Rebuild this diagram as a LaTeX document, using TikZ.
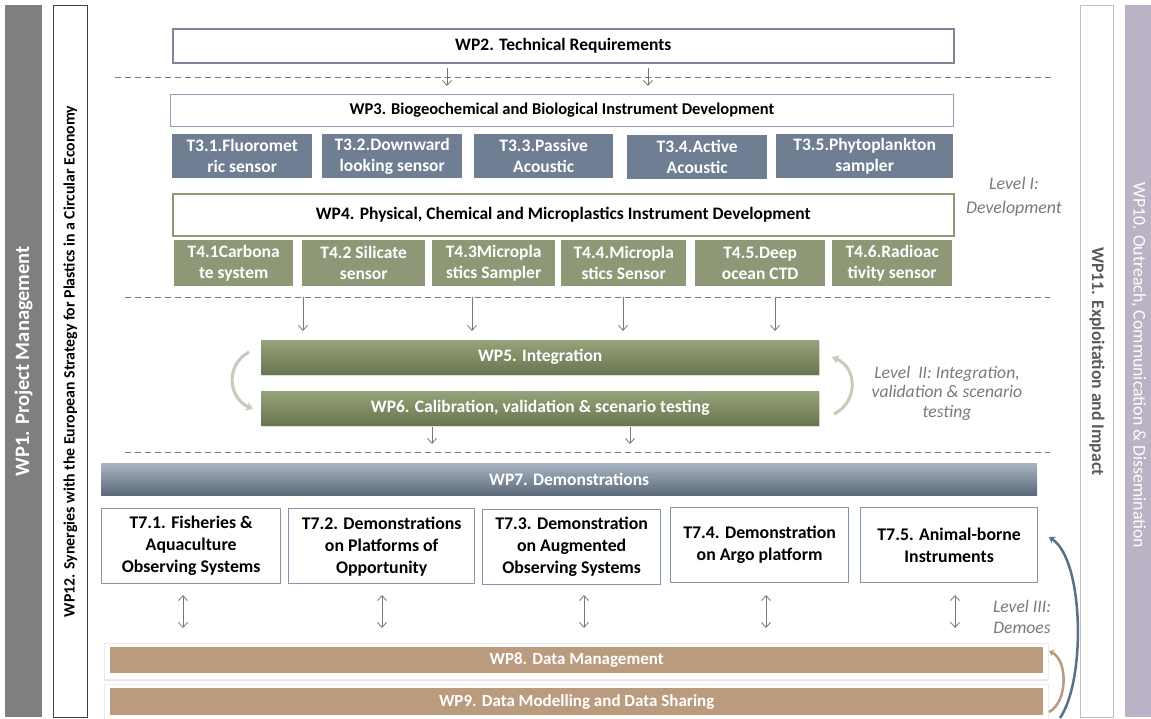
\documentclass[tikz,border=0pt]{standalone}
\usepackage{fontspec}
\setmainfont{Carlito}
\usetikzlibrary{arrows.meta,shadows}
\definecolor{wpgray}{HTML}{7F7F7F}
\definecolor{wpten}{HTML}{BBB3C5}
\definecolor{wptwoline}{HTML}{8B7F98}
\definecolor{wpthreeline}{HTML}{8DA0B8}
\definecolor{tthree}{HTML}{6F7E92}
\definecolor{wpfourline}{HTML}{8C9A76}
\definecolor{tfour}{HTML}{8E9877}
\definecolor{olivetop}{HTML}{96A279}
\definecolor{olivebot}{HTML}{687650}
\definecolor{slatetop}{HTML}{AAB5C3}
\definecolor{slatebot}{HTML}{5A6878}
\definecolor{tsevenline}{HTML}{8494AB}
\definecolor{tan}{HTML}{BB9B7E}
\definecolor{lvl}{HTML}{7A7A7A}
\definecolor{arr}{HTML}{777777}
\definecolor{cyc}{HTML}{C5CCBA}
\definecolor{bluearc}{HTML}{5A7087}
\newcommand\fsz[2]{\fontsize{#1}{#2}\selectfont}
\tikzset{
  base/.style={anchor=north west, inner sep=0pt, align=center, font=\bfseries\fsz{17.5}{21}},
  wpbox/.style={base, draw, fill=white, line width=1.6pt},
  tthreebox/.style={base, fill=tthree, text=white},
  tfourbox/.style={base, fill=tfour, text=white},
  olivebar/.style={base, top color=olivetop, bottom color=olivebot, text=white, drop shadow={opacity=0.25, shadow xshift=1pt, shadow yshift=-2pt}},
  slatebar/.style={base, top color=slatetop, bottom color=slatebot, text=white},
  tsevenbox/.style={base, draw=tsevenline, line width=1.3pt, fill=white, font=\bfseries\fsz{17.8}{22}},
  tanbar/.style={base, fill=tan, text=white, font=\bfseries\fsz{17}{19}},
  tanframe/.style={anchor=north west, inner sep=0pt, fill=white, draw=black!8, drop shadow={opacity=0.2, shadow xshift=0pt, shadow yshift=-2pt}},
  level/.style={align=center, text=lvl, font=\itshape\fsz{17.8}{24}},
  dline/.style={draw=arr, dash pattern=on 6pt off 4pt, line width=0.8pt},
  darrow/.style={draw=arr, line width=0.8pt, -{Straight Barb[length=5pt,width=9pt]}},
  ddarrow/.style={draw=arr, line width=0.8pt, {Straight Barb[length=5pt,width=9pt]}-{Straight Barb[length=5pt,width=9pt]}},
  cycarrow/.style={draw=cyc, line width=3pt, -{Stealth[length=7pt,width=9pt]}},
}
\begin{document}
\begin{tikzpicture}[x=1pt,y=-1pt]
\useasboundingbox[fill=white] (0,0) rectangle (1151,718);

% side bars
\node[anchor=north west, inner sep=0pt, fill=wpgray, minimum width=37pt, minimum height=712pt] (wp1) at (5,5) {};
\node[rotate=90, text=white, font=\bfseries\fsz{20.5}{22}] (wp1t) at (wp1.center) {WP1. Project Management};
\node[anchor=north west, inner sep=0pt, draw=black!75, line width=1pt, fill=white, minimum width=34pt, minimum height=712pt] (wp12) at (53,5) {};
\node[rotate=90, font=\bfseries\fsz{15.8}{18}] (wp12t) at (wp12.center) {WP12. Synergies with the European Strategy for Plastics in a Circular Economy};
\node[anchor=north west, inner sep=0pt, draw=black!25, line width=0.8pt, fill=white, minimum width=33pt, minimum height=712pt] (wp11) at (1080,5) {};
\node[rotate=-90, text=black!65, font=\bfseries\fsz{17.7}{20}] (wp11t) at (wp11.center) {WP11. Exploitation and Impact};
\node[anchor=north west, inner sep=0pt, fill=wpten, minimum width=27pt, minimum height=712pt] (wp10) at (1125,5) {};
\node[rotate=-90, text=white, font=\fsz{17.8}{20}] (wp10t) at ([yshift=-4pt]wp10.center) {WP10. Outreach, Communication \& Dissemination};

% Level I
\node[wpbox, draw=wptwoline, minimum width=781pt, minimum height=34pt] (wp2) at (172,28) {WP2. Technical Requirements};
\coordinate (d1l) at (115,77); \coordinate (d1r) at (1055,77);
\draw[dline] (d1l) -- (d1r);
\coordinate (a1s) at (447,68); \coordinate (a1e) at (447,86);
\coordinate (a2s) at (648,68); \coordinate (a2e) at (648,86);
\draw[darrow] (a1s) -- (a1e);
\draw[darrow] (a2s) -- (a2e);
\node[wpbox, draw=wpthreeline, line width=1pt, minimum width=783pt, minimum height=32pt, font=\bfseries\fsz{16.5}{20}] (wp3) at (170,94) {WP3. Biogeochemical and Biological Instrument Development};
\node[tthreebox, minimum width=140pt, minimum height=44pt] (t31) at (172,134) {T3.1.Fluoromet\\ric sensor};
\node[tthreebox, minimum width=140pt, minimum height=44pt] (t32) at (322,134) {T3.2.Downward\\looking sensor};
\node[tthreebox, minimum width=139pt, minimum height=44pt] (t33) at (474,134) {T3.3.Passive\\Acoustic};
\node[tthreebox, minimum width=140pt, minimum height=44pt] (t34) at (627,135) {T3.4.Active\\Acoustic};
\node[tthreebox, minimum width=177pt, minimum height=44pt] (t35) at (776,134) {T3.5.Phytoplankton\\sampler};
\node[wpbox, draw=wpfourline, minimum width=781pt, minimum height=42pt] (wp4) at (172,193) {WP4. Physical, Chemical and Microplastics Instrument Development};
\node[tfourbox, minimum width=119pt, minimum height=46pt] (t41) at (174,240) {T4.1Carbona\\te system};
\node[tfourbox, minimum width=123pt, minimum height=46pt] (t42) at (302,240) {T4.2 Silicate\\sensor};
\node[tfourbox, minimum width=123pt, minimum height=46pt] (t43) at (432,240) {T4.3Micropla\\stics Sampler};
\node[tfourbox, minimum width=125pt, minimum height=46pt] (t44) at (561,240) {T4.4.Micropla\\stics Sensor};
\node[tfourbox, minimum width=130pt, minimum height=46pt] (t45) at (695,240) {T4.5.Deep\\ocean CTD};
\node[tfourbox, minimum width=120pt, minimum height=46pt] (t46) at (832,240) {T4.6.Radioac\\tivity sensor};
\node[level] (lv1) at (1014,197) {Level I:\\Development};

% Level II
\coordinate (d2l) at (125,297); \coordinate (d2r) at (1050,297);
\draw[dline] (d2l) -- (d2r);
\foreach \x/\n in {303/b1,472/b2,623/b3,775/b4}{
  \coordinate (\n s) at (\x,297); \coordinate (\n e) at (\x,331);
  \draw[darrow] (\n s) -- (\n e);
}
\node[olivebar, minimum width=558pt, minimum height=34pt] (wp5) at (261,340) {WP5. Integration};
\node[olivebar, minimum width=558pt, minimum height=34pt] (wp6) at (261,391) {WP6. Calibration, validation \& scenario testing};
\coordinate (cl1) at (249,352); \coordinate (cl2) at (253,409);
\draw[cycarrow] (cl1) .. controls (225,365) and (228,398) .. (cl2);
\coordinate (cr1) at (834,414); \coordinate (cr2) at (832,357);
\draw[cycarrow] (cr1) .. controls (858,402) and (858,368) .. (cr2);
\node[level, font=\itshape\fsz{17.6}{19.5}] (lv2) at (947,393) {Level\ \ II: Integration,\\validation \& scenario\\testing};
\coordinate (c1s) at (432,427); \coordinate (c1e) at (432,444);
\coordinate (c2s) at (630,427); \coordinate (c2e) at (630,444);
\draw[darrow] (c1s) -- (c1e);
\draw[darrow] (c2s) -- (c2e);
\coordinate (d3l) at (125,452); \coordinate (d3r) at (1050,452);
\draw[dline] (d3l) -- (d3r);

% Level III
\node[slatebar, minimum width=936pt, minimum height=32pt] (wp7) at (101,463) {WP7. Demonstrations};
\node[tsevenbox, minimum width=179pt, minimum height=75pt] (t71) at (101,508) {T7.1. Fisheries \&\\Aquaculture\\Observing Systems};
\node[tsevenbox, minimum width=186pt, minimum height=75pt] (t72) at (288,508) {T7.2. Demonstrations\\on Platforms of\\Opportunity};
\node[tsevenbox, minimum width=178pt, minimum height=75pt] (t73) at (482,509) {T7.3. Demonstration\\on Augmented\\Observing Systems};
\node[tsevenbox, minimum width=178pt, minimum height=75pt] (t74) at (670,507) {T7.4. Demonstration\\on Argo platform};
\node[tsevenbox, minimum width=177pt, minimum height=75pt] (t75) at (860,507) {T7.5. Animal-borne\\Instruments};
\foreach \x/\n in {183/e1,382/e2,584/e3,766/e4,955/e5}{
  \coordinate (\n s) at (\x,595); \coordinate (\n e) at (\x,628);
  \draw[ddarrow] (\n s) -- (\n e);
}
\node[level, font=\itshape\fsz{17.6}{21}] (lv3) at (1022,617) {Level III:\\Demoes};

\node[tanframe, minimum width=944pt, minimum height=36pt] (wp8f) at (104,643) {};
\node[tanbar, minimum width=933pt, minimum height=26pt] (wp8) at (110,647) {WP8. Data Management};
\node[tanframe, minimum width=944pt, minimum height=36pt] (wp9f) at (104,684) {};
\node[tanbar, minimum width=933pt, minimum height=27pt] (wp9) at (110,688) {WP9. Data Modelling and Data Sharing};

\coordinate (ta1) at (1049,651); \coordinate (ta2) at (1049,712);
\draw[draw=tan, line width=2.5pt, {Stealth[length=5pt,width=7pt]}-] (ta1) .. controls (1068,660) and (1068,702) .. (ta2);
\coordinate (bl1) at (1049,537); \coordinate (bl2) at (1060,718);
\draw[draw=bluearc, line width=2.5pt, {Stealth[length=6pt,width=8pt]}-] (bl1) .. controls (1084,560) and (1086,680) .. (bl2);
\end{tikzpicture}
\end{document}
